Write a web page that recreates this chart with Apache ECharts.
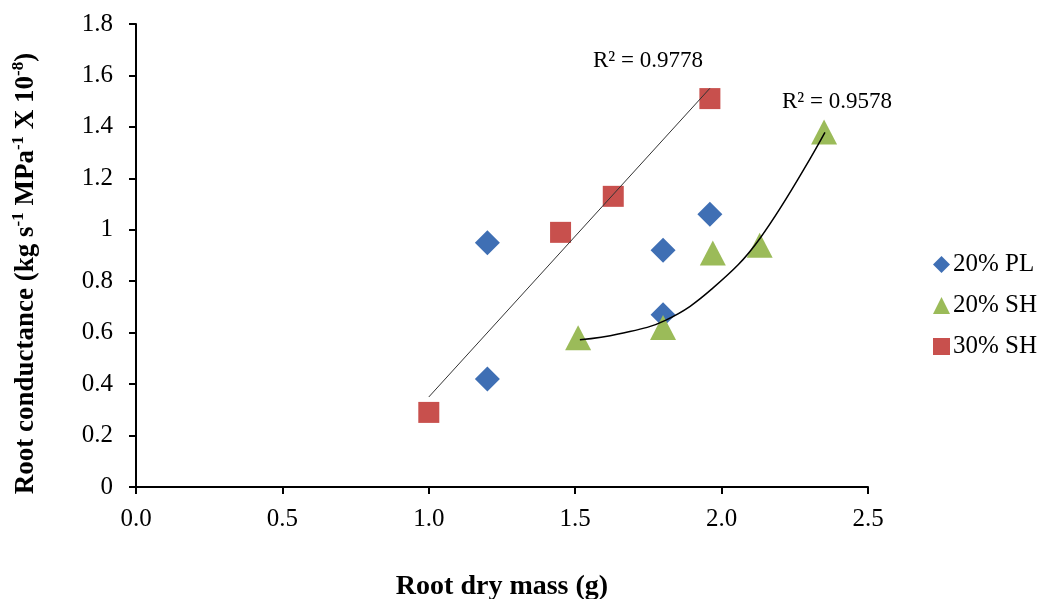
<!DOCTYPE html>
<html>
<head>
<meta charset="utf-8">
<script src="https://cdn.jsdelivr.net/npm/echarts@6/dist/echarts.min.js"></script>
<style>
	html, body { margin: 0; padding: 0; background: #fff; }
	#chart { width: 1049px; height: 599px; }
</style>
</head>
<body>
<div id="chart"></div>
<script>
	// 数据：从图上读取
	var seriesNames = ['20% PL', '20% SH', '30% SH'];
	var pl20 = [[1.20, 0.95], [1.20, 0.42], [1.80, 0.92], [1.96, 1.06], [1.80, 0.67]];
	var sh20 = [[1.51, 0.58], [1.80, 0.62], [1.97, 0.91], [2.13, 0.94], [2.35, 1.38]];
	var sh30 = [[1.00, 0.29], [1.45, 0.99], [1.63, 1.13], [1.96, 1.51]];
	// 趋势线（读取端点/曲线点）
	var trend30 = [[1.00, 0.35], [1.96, 1.55]];
	var trend20 = [[1.516, 0.572], [1.647, 0.595], [1.808, 0.648], [1.969, 0.772], [2.132, 0.968], [2.353, 1.379]];
	var r2Labels = ['R² = 0.9778', 'R² = 0.9578'];

	var chart = echarts.init(document.getElementById('chart'));
	var serif = '"Liberation Serif", "Times New Roman", serif';

	var option = {
		animation: false,
		backgroundColor: '#fff',
		textStyle: { fontFamily: serif },
		grid: { left: 136, right: 181, top: 24, bottom: 112, outerBoundsMode: 'none', containLabel: false },
		legend: {
			data: [
				{ name: seriesNames[0], icon: 'diamond' },
				{ name: seriesNames[1], icon: 'triangle' },
				{ name: seriesNames[2], icon: 'rect' }
			],
			orient: 'vertical',
			left: 928,
			top: 247,
			itemWidth: 17,
			itemHeight: 17,
			itemGap: 16,
			textStyle: { fontFamily: serif, fontSize: 25, color: '#000', padding: [0, 0, 0, -2] }
		},
		xAxis: {
			type: 'value',
			min: 0,
			max: 2.5,
			interval: 0.5,
			name: 'Root dry mass (g)',
			nameLocation: 'middle',
			nameGap: 86,
			nameTextStyle: { fontFamily: serif, fontSize: 28, fontWeight: 'bold', color: '#000' },
			splitLine: { show: false },
			axisLine: { lineStyle: { color: '#000', width: 2 } },
			axisTick: { show: true, length: 7, lineStyle: { color: '#000', width: 2 } },
			axisLabel: {
				fontFamily: serif, fontSize: 25, color: '#000', margin: 20,
				formatter: function(v) { return v.toFixed(1); }
			}
		},
		yAxis: {
			type: 'value',
			min: 0,
			max: 1.8,
			interval: 0.2,
			name: '{t|Root conductance (kg s}{s|-1}{t| MPa}{s|-1}{t| X 10}{s|-8}{t|)}',
			nameLocation: 'middle',
			nameRotate: 90,
			nameGap: 96,
			nameTextStyle: {
				fontFamily: serif, fontSize: 27, fontWeight: 'bold', color: '#000',
				padding: [0, 36, 0, 0],
				rich: {
					t: { fontFamily: serif, fontSize: 27, fontWeight: 'bold', color: '#000', lineHeight: 30, verticalAlign: 'bottom' },
					s: { fontFamily: serif, fontSize: 17, fontWeight: 'bold', color: '#000', lineHeight: 30, verticalAlign: 'top' }
				}
			},
			splitLine: { show: false },
			axisLine: { show: true, lineStyle: { color: '#000', width: 2 } },
			axisTick: { show: true, length: 7, lineStyle: { color: '#000', width: 2 } },
			axisLabel: {
				fontFamily: serif, fontSize: 25, color: '#000', margin: 23,
				formatter: function(v) { return String(Math.round(v * 10) / 10); }
			}
		},
		graphic: [
			{ type: 'text', left: 593, top: 49, style: { text: r2Labels[0], font: '23px ' + serif, fill: '#000' } },
			{ type: 'text', left: 782, top: 90, style: { text: r2Labels[1], font: '23px ' + serif, fill: '#000' } }
		],
		series: [
			{
				name: 'trend30', type: 'line', data: trend30, silent: true,
				symbol: 'none', z: 3,
				lineStyle: { color: '#333', width: 1 }
			},
			{
				name: 'trend20', type: 'line', data: trend20, silent: true,
				symbol: 'none', smooth: 0.4, z: 3,
				lineStyle: { color: '#000', width: 1.5 }
			},
			{
				name: seriesNames[2], type: 'scatter', data: sh30,
				symbol: 'rect', symbolSize: 21, z: 2,
				itemStyle: { color: '#C8504D', opacity: 1 }
			},
			{
				name: seriesNames[0], type: 'scatter', data: pl20,
				symbol: 'diamond', symbolSize: 25, z: 2,
				itemStyle: { color: '#3F6FB4', opacity: 1 }
			},
			{
				name: seriesNames[1], type: 'scatter', data: sh20,
				symbol: 'triangle', symbolSize: [26, 25], z: 2,
				itemStyle: { color: '#9BBB59', opacity: 1 }
			}
		]
	};

	chart.setOption(option);
</script>
</body>
</html>
